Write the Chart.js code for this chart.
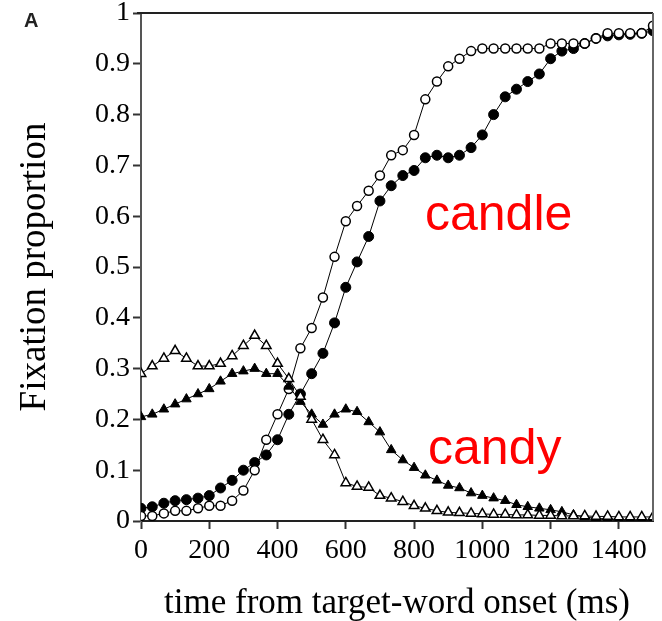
<!DOCTYPE html>
<html>
<head>
<meta charset="utf-8">
<script src="https://cdn.jsdelivr.net/npm/chart.js@4.4.1/dist/chart.umd.min.js"></script>
<style>
html, body { margin: 0; padding: 0; background: #fff; }
</style>
</head>
<body>
<canvas id="fixChart" width="662" height="621"></canvas>
<script>
// time bins (ms from target-word onset)
var times = [0, 33, 67, 100, 133, 167, 200, 233, 267, 300, 333, 367, 400, 433, 467, 500,
    533, 567, 600, 633, 667, 700, 733, 767, 800, 833, 867, 900, 933, 967, 1000,
    1033, 1067, 1100, 1133, 1167, 1200, 1233, 1267, 1300, 1333, 1367, 1400, 1433, 1467, 1500];

// candle, filled circles
var candleFilled = [0.025, 0.028, 0.035, 0.04, 0.042, 0.045, 0.05, 0.065, 0.08, 0.1, 0.115, 0.13, 0.16, 0.21, 0.25, 0.29,
    0.33, 0.39, 0.46, 0.51, 0.56, 0.63, 0.66, 0.68, 0.69, 0.715, 0.72, 0.715, 0.72, 0.735, 0.76,
    0.8, 0.835, 0.85, 0.865, 0.88, 0.91, 0.925, 0.93, 0.94, 0.95, 0.955, 0.957, 0.958, 0.96, 0.965];

// candle, open circles
var candleOpen = [0.01, 0.01, 0.015, 0.02, 0.02, 0.025, 0.03, 0.03, 0.04, 0.06, 0.1, 0.16, 0.21, 0.26, 0.34, 0.38,
    0.44, 0.52, 0.59, 0.62, 0.65, 0.68, 0.72, 0.73, 0.76, 0.83, 0.865, 0.895, 0.91, 0.925, 0.93,
    0.93, 0.93, 0.93, 0.93, 0.93, 0.94, 0.94, 0.94, 0.94, 0.95, 0.96, 0.96, 0.96, 0.96, 0.975];

// candy, filled triangles
var candyFilled = [0.205, 0.21, 0.22, 0.23, 0.24, 0.25, 0.26, 0.275, 0.29, 0.295, 0.3, 0.29, 0.29, 0.265, 0.235, 0.21,
    0.19, 0.21, 0.22, 0.215, 0.195, 0.175, 0.14, 0.12, 0.105, 0.09, 0.08, 0.07, 0.065, 0.055, 0.05,
    0.045, 0.04, 0.032, 0.028, 0.025, 0.022, 0.018, 0.012, 0.008, 0.005, 0.004, 0.003, 0.002, 0.002, 0.002];

// candy, open triangles
var candyOpen = [0.29, 0.305, 0.32, 0.335, 0.32, 0.305, 0.305, 0.31, 0.325, 0.345, 0.365, 0.345, 0.31, 0.28, 0.245, 0.2,
    0.16, 0.13, 0.075, 0.068, 0.066, 0.05, 0.045, 0.038, 0.03, 0.025, 0.02, 0.017, 0.016, 0.015, 0.014,
    0.013, 0.013, 0.012, 0.012, 0.011, 0.011, 0.01, 0.01, 0.01, 0.009, 0.009, 0.008, 0.008, 0.008, 0.008];

var xTicks = [0, 200, 400, 600, 800, 1000, 1200, 1400];
var xTickLabels = ['0', '200', '400', '600', '800', '1000', '1200', '1400'];
var yTicks = [0, 0.1, 0.2, 0.3, 0.4, 0.5, 0.6, 0.7, 0.8, 0.9, 1];
var yTickLabels = ['0', '0.1', '0.2', '0.3', '0.4', '0.5', '0.6', '0.7', '0.8', '0.9', '1'];

var wordLabels = ['candle', 'candy'];

function pts(vals) {
    return times.map(function (t, i) { return { x: t, y: vals[i] }; });
}

var serif = '"Liberation Serif", "Times New Roman", serif';
var sans = '"Liberation Sans", Arial, sans-serif';

// box round the plot, red word labels and the panel letter
var extras = {
    id: 'extras',
    afterDraw: function (chart) {
        var c = chart.ctx, a = chart.chartArea;
        var sx = chart.scales.x, sy = chart.scales.y;
        c.save();
        c.strokeStyle = '#222';
        c.lineWidth = 2;
        c.beginPath();
        c.moveTo(a.left - 4, a.top);
        c.lineTo(a.right, a.top);
        c.stroke();
        c.strokeStyle = '#666';
        c.beginPath();
        c.moveTo(a.right, a.top);
        c.lineTo(a.right, a.bottom);
        c.stroke();

        c.fillStyle = '#ff0000';
        c.font = '50px ' + sans;
        c.textBaseline = 'middle';
        c.textAlign = 'left';
        c.fillText(wordLabels[0], sx.getPixelForValue(832), sy.getPixelForValue(0.6));
        c.fillText(wordLabels[1], sx.getPixelForValue(841), sy.getPixelForValue(0.14));

        c.fillStyle = '#222';
        c.font = 'bold 20px ' + sans;
        c.fillText('A', 24, 21);
        c.restore();
    }
};

var ctx = document.getElementById('fixChart').getContext('2d');
var chart = new Chart(ctx, {
    type: 'line',
    data: {
        datasets: [{
            label: 'candy (open)',
            data: pts(candyOpen),
            pointStyle: 'triangle',
            pointRadius: 5.5,
            pointBackgroundColor: '#fff',
            pointBorderColor: '#000',
            pointBorderWidth: 1.5,
            borderColor: '#000',
            borderWidth: 1
        }, {
            label: 'candy (filled)',
            data: pts(candyFilled),
            pointStyle: 'triangle',
            pointRadius: 5.5,
            pointBackgroundColor: '#000',
            pointBorderColor: '#000',
            borderColor: '#000',
            borderWidth: 1
        }, {
            label: 'candle (open)',
            data: pts(candleOpen),
            pointStyle: 'circle',
            pointRadius: 4.5,
            pointBackgroundColor: '#fff',
            pointBorderColor: '#000',
            pointBorderWidth: 1.5,
            borderColor: '#000',
            borderWidth: 1
        }, {
            label: 'candle (filled)',
            data: pts(candleFilled),
            pointStyle: 'circle',
            pointRadius: 5,
            pointBackgroundColor: '#000',
            pointBorderColor: '#000',
            borderColor: '#000',
            borderWidth: 1
        }]
    },
    options: {
        responsive: false,
        animation: false,
        layout: { padding: { top: 13, right: 9, left: 0, bottom: 0 } },
        plugins: {
            legend: { display: false },
            tooltip: { enabled: false }
        },
        elements: { line: { tension: 0 } },
        scales: {
            x: {
                type: 'linear',
                min: 0,
                max: 1500,
                afterBuildTicks: function (s) { s.ticks = xTicks.map(function (v) { return { value: v }; }); },
                afterFit: function (s) { s.height = 100; s.paddingLeft = 0; s.paddingRight = 0; },
                grid: { drawOnChartArea: false, tickLength: 8, color: '#333', tickWidth: 2 },
                border: { color: '#222', width: 2 },
                ticks: {
                    color: '#000',
                    padding: 5,
                    maxRotation: 0,
                    font: { family: serif, size: 28 },
                    callback: function (v, i) { return xTickLabels[i]; }
                },
                title: {
                    display: true,
                    text: 'time from target-word onset (ms)',
                    color: '#000',
                    padding: 0,
                    font: { family: serif, size: 35, lineHeight: 1 }
                }
            },
            y: {
                min: 0,
                max: 1,
                afterBuildTicks: function (s) { s.ticks = yTicks.map(function (v) { return { value: v }; }); },
                afterFit: function (s) { s.width = 141; s.paddingTop = 0; s.paddingBottom = 0; },
                grid: { drawOnChartArea: false, tickLength: 8, color: '#333', tickWidth: 2 },
                border: { color: '#555', width: 2 },
                ticks: {
                    color: '#000',
                    padding: 3,
                    font: { family: serif, size: 28 },
                    callback: function (v, i) { return yTickLabels[i]; }
                },
                title: {
                    display: true,
                    text: 'Fixation proportion',
                    color: '#000',
                    padding: { top: 13, bottom: 0 },
                    font: { family: serif, size: 37 }
                }
            }
        }
    },
    plugins: [extras]
});
</script>
</body>
</html>
